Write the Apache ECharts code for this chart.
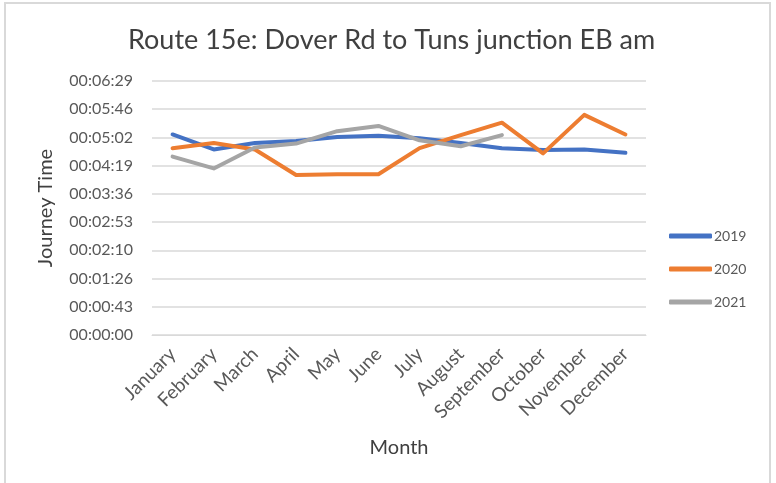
<!DOCTYPE html>
<html>
<head>
<meta charset="utf-8">
<script src="https://cdn.jsdelivr.net/npm/echarts@6/dist/echarts.min.js"></script>
<style>
  html, body { margin: 0; padding: 0; background: #fff; }
  #chart { width: 776px; height: 483px; }
</style>
</head>
<body>
<div id="chart"></div>
<script>
var months = ['January', 'February', 'March', 'April', 'May', 'June',
    'July', 'August', 'September', 'October', 'November', 'December'];

// journey times in seconds
var y2019 = [307, 284, 294, 297, 303, 305, 301, 294, 286, 283, 284, 279];
var y2020 = [286, 294, 284, 245, 246, 246, 286, 306, 325, 278, 337, 307];
var y2021 = [273, 255, 287, 293, 312, 320, 298, 289, 306, null, null, null];

var yTickLabels = ['00:00:00', '00:00:43', '00:01:26', '00:02:10', '00:02:53',
    '00:03:36', '00:04:19', '00:05:02', '00:05:46', '00:06:29'];
var yStep = 43.2;

var font = 'Lato';
var textColor = '#595959';

var chart = echarts.init(document.getElementById('chart'));

function makeLine(name, data, color) {
    return {
        name: name,
        type: 'line',
        data: data,
        showSymbol: false,
        symbol: 'none',
        color: color,
        lineStyle: { width: 4, color: color, cap: 'round', join: 'round' }
    };
}

var option = {
    animation: false,
    textStyle: { fontFamily: font },
    title: {
        text: 'Route 15e: Dover Rd to Tuns junction EB am',
        left: 123,
        top: 22,
        textStyle: { fontFamily: font, fontSize: 27, fontWeight: 'normal', color: '#404040' }
    },
    graphic: [{
        type: 'rect',
        shape: { x: 5, y: 3, width: 765, height: 500 },
        style: { fill: 'none', stroke: '#D9D9D9', lineWidth: 2 },
        silent: true
    }],
    legend: {
        orient: 'vertical',
        left: 664,
        top: 224,
        itemWidth: 43,
        itemHeight: 5,
        itemGap: 19,
        icon: 'roundRect',
        textStyle: { fontFamily: font, fontSize: 14, color: textColor, padding: [0, 0, 0, -3] },
        data: ['2019', '2020', '2021']
    },
    grid: { left: 152, right: 130, top: 81, bottom: 148 },
    xAxis: {
        type: 'category',
        data: months,
        name: 'Month',
        nameLocation: 'middle',
        nameGap: 103,
        nameTextStyle: { fontFamily: font, fontSize: 20, color: '#404040' },
        axisLine: { lineStyle: { color: '#D9D9D9', width: 1 } },
        axisTick: { show: false },
        axisLabel: { rotate: 45, fontSize: 19, color: textColor, margin: 16, interval: 0 }
    },
    yAxis: {
        type: 'value',
        min: 0,
        max: yStep * 9,
        interval: yStep,
        name: 'Journey Time',
        nameLocation: 'middle',
        nameGap: 96,
        nameTextStyle: { fontFamily: font, fontSize: 20, color: '#404040' },
        axisLine: { show: false },
        axisTick: { show: false },
        splitLine: { lineStyle: { color: '#D9D9D9', width: 1.5 } },
        axisLabel: {
            fontSize: 16,
            color: textColor,
            margin: 19,
            formatter: function (value) {
                return yTickLabels[Math.round(value / yStep)];
            }
        }
    },
    series: [
        makeLine('2019', y2019, '#4472C4'),
        makeLine('2020', y2020, '#ED7D31'),
        makeLine('2021', y2021, '#A5A5A5')
    ]
};

chart.setOption(option);
</script>
</body>
</html>
